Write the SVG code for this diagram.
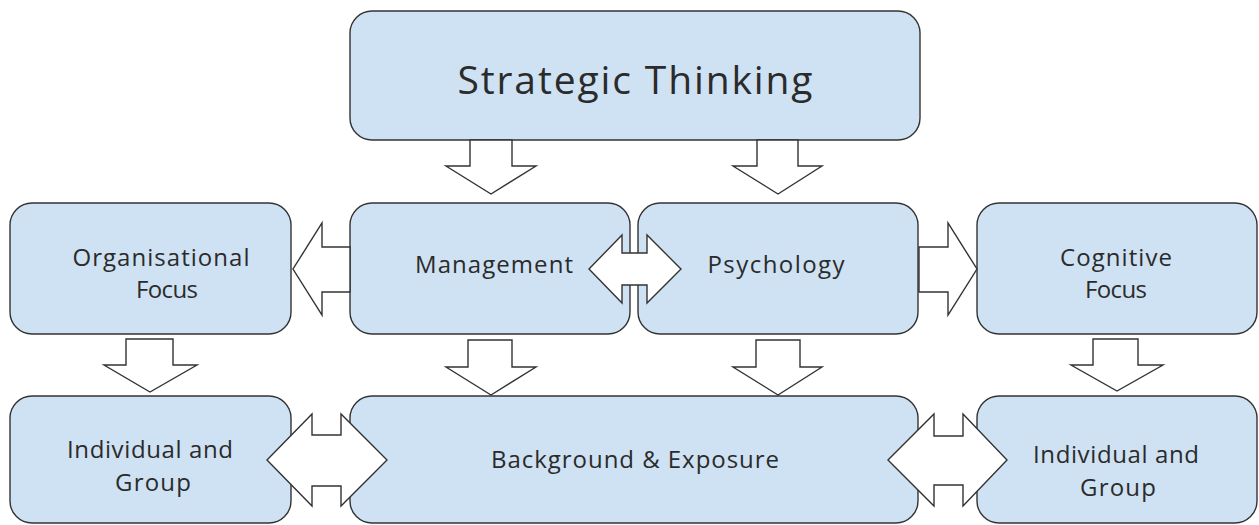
<svg xmlns="http://www.w3.org/2000/svg" width="1259" height="525" viewBox="0 0 1259 525">
  <style>
    .box { fill: #cfe2f3; stroke: #333333; stroke-width: 1.4; }
    .arrow { fill: #ffffff; stroke: #333333; stroke-width: 1.4; stroke-linejoin: miter; }
    .lbl { font-family: "Open Sans", "Noto Sans", "Liberation Sans", sans-serif; font-size: 24px; fill: #2b2b2b; text-anchor: middle; }
    .title { font-size: 39px; }
  </style>
  <rect width="1259" height="525" fill="#ffffff"/>

  <g id="strategic-thinking">
    <rect class="box" x="350" y="11" width="570" height="129" rx="22"/>
    <text class="lbl title" x="635" y="94" textLength="355">Strategic Thinking</text>
  </g>

  <g id="organisational-focus">
    <rect class="box" x="10" y="203" width="281" height="131" rx="22"/>
    <text class="lbl" x="161" y="266" textLength="177">Organisational</text>
    <text class="lbl" x="167" y="298" textLength="62">Focus</text>
  </g>

  <g id="management">
    <rect class="box" x="350" y="203" width="280" height="131" rx="22"/>
    <text class="lbl" x="494" y="273" textLength="158">Management</text>
  </g>

  <g id="psychology">
    <rect class="box" x="638" y="203" width="280" height="131" rx="22"/>
    <text class="lbl" x="776" y="273" textLength="137">Psychology</text>
  </g>

  <g id="cognitive-focus">
    <rect class="box" x="977" y="203" width="280" height="131" rx="22"/>
    <text class="lbl" x="1116" y="266" textLength="112">Cognitive</text>
    <text class="lbl" x="1116" y="298" textLength="62">Focus</text>
  </g>

  <g id="individual-group-left">
    <rect class="box" x="10" y="396" width="281" height="127" rx="22"/>
    <text class="lbl" x="150" y="458" textLength="166">Individual and</text>
    <text class="lbl" x="153" y="491" textLength="76">Group</text>
  </g>

  <g id="background-exposure">
    <rect class="box" x="350" y="396" width="568" height="127" rx="22"/>
    <text class="lbl" x="635" y="468" textLength="288">Background &amp; Exposure</text>
  </g>

  <g id="individual-group-right">
    <rect class="box" x="977" y="396" width="280" height="127" rx="22"/>
    <text class="lbl" x="1116" y="463" textLength="166">Individual and</text>
    <text class="lbl" x="1118" y="496" textLength="76">Group</text>
  </g>

  <g id="connectors">
    <!-- block arrows down from the top box -->
    <polygon class="arrow" points="470,140 512,140 512,166 536,166 491,194 446,166 470,166"/>
    <polygon class="arrow" points="757,140 798,140 798,166 822,166 778,194 733,166 757,166"/>
    <!-- Management to Organisational Focus -->
    <polygon class="arrow" points="350,247 322,247 322,223 293,269 322,315 322,292 350,292"/>
    <!-- Management and Psychology, two-way -->
    <polygon class="arrow" points="589,269 622,235 622,253 647,253 647,235 681,269 647,303 647,285 622,285 622,303"/>
    <!-- Psychology to Cognitive Focus -->
    <polygon class="arrow" points="919,247 948,247 948,223 977,269 948,315 948,292 919,292"/>
    <!-- block arrows down into the bottom row -->
    <polygon class="arrow" points="126,339 173,339 173,365 197,365 150,392 104,365 126,365"/>
    <polygon class="arrow" points="468,340 512,340 512,367 536,367 491,395 446,367 468,367"/>
    <polygon class="arrow" points="756,340 800,340 800,367 822,367 778,395 733,367 756,367"/>
    <polygon class="arrow" points="1093,339 1138,339 1138,365 1163,365 1117,391 1071,365 1093,365"/>
    <!-- two-way arrows either side of Background & Exposure -->
    <polygon class="arrow" points="267,460 312,414 312,435 341,435 341,414 387,460 341,506 341,486 312,486 312,506"/>
    <polygon class="arrow" points="888,460 934,414 934,436 963,436 963,414 1007,460 963,506 963,485 934,485 934,506"/>
  </g>
</svg>
